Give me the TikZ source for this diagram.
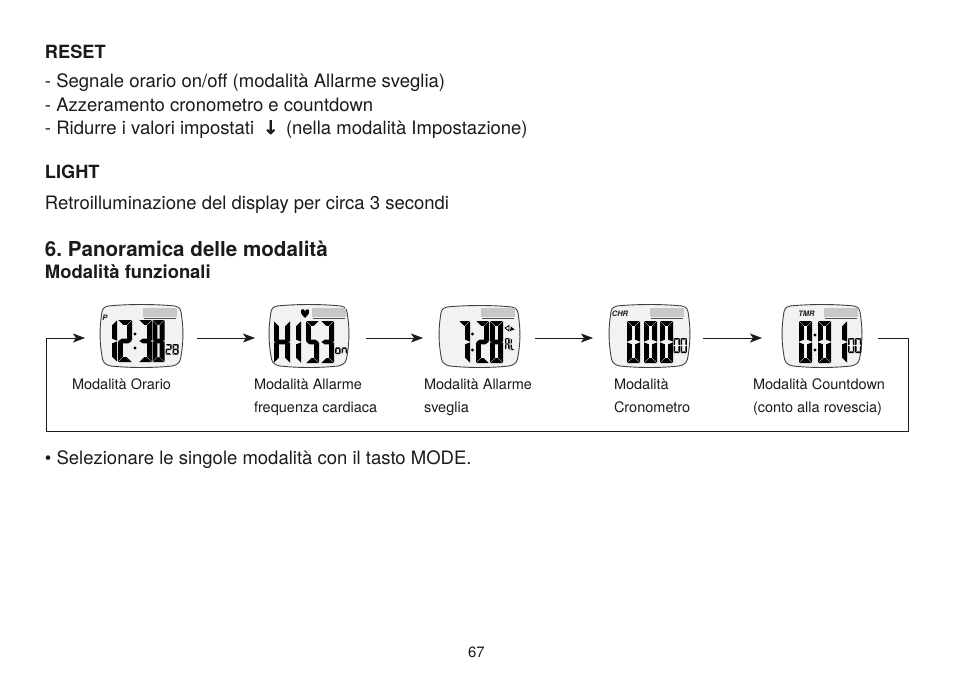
\documentclass[tikz,border=0pt]{standalone}
\usepackage{fontspec}
\setmainfont{TeX Gyre Heros}
\newfontfamily\symfont[FakeBold=3]{DejaVu Sans}
\usetikzlibrary{arrows.meta}
\definecolor{ink}{HTML}{1C1A1A}
\frenchspacing
\tikzset{
  x=1pt,y=-1pt,
  txt/.style={anchor=base west,inner sep=0,outer sep=0,text=ink,font=\fontsize{18.5}{18.5}\selectfont},
  boldhead/.style={txt,font=\fontsize{18.2}{18.2}\selectfont\bfseries},
  boldtitle/.style={txt,font=\fontsize{20.6}{20.6}\selectfont\bfseries},
  boldsub/.style={txt,font=\fontsize{18.4}{18.4}\selectfont\bfseries},
  captxt/.style={txt,font=\fontsize{14.5}{14.5}\selectfont},
  pagenum/.style={txt,font=\fontsize{15}{15}\selectfont},
  tinytxt/.style={anchor=center,inner sep=0,outer sep=0,text=ink,font=\fontsize{7.5}{7.5}\selectfont\bfseries\itshape},
  flow/.style={draw=ink,line width=1pt,-{Stealth[length=12pt,width=9pt,inset=3pt]}},
  lcdbody/.style={draw=black!75,line width=0.9pt,fill=black!5},
  lcdbar/.style={fill=black!22},
  lcdink/.style={fill=black}
}
\def\lcdsega{\fill[lcdink] (\DG,0) -- (\DW-\DG,0) -- (\DW-\DG-\DT,\DT) -- (\DG+\DT,\DT) -- cycle;}
\def\lcdsegd{\fill[lcdink] (\DG,\DH) -- (\DW-\DG,\DH) -- (\DW-\DG-\DT,\DH-\DT) -- (\DG+\DT,\DH-\DT) -- cycle;}
\def\lcdsegg{\fill[lcdink] (\DG,\DM) -- (\DG+\DT*0.7,\DM-\DT*0.5) -- (\DW-\DG-\DT*0.7,\DM-\DT*0.5) -- (\DW-\DG,\DM) -- (\DW-\DG-\DT*0.7,\DM+\DT*0.5) -- (\DG+\DT*0.7,\DM+\DT*0.5) -- cycle;}
\def\lcdsegf{\fill[lcdink] (0,\DG) -- (\DT,\DG+\DT) -- (\DT,\DM-\DG-\DT*0.4) -- (0,\DM-\DG) -- cycle;}
\def\lcdsege{\fill[lcdink] (0,\DM+\DG) -- (\DT,\DM+\DG+\DT*0.4) -- (\DT,\DH-\DG-\DT) -- (0,\DH-\DG) -- cycle;}
\def\lcdsegb{\fill[lcdink] (\DW,\DG) -- (\DW-\DT,\DG+\DT) -- (\DW-\DT,\DM-\DG-\DT*0.4) -- (\DW,\DM-\DG) -- cycle;}
\def\lcdsegc{\fill[lcdink] (\DW,\DM+\DG) -- (\DW-\DT,\DM+\DG+\DT*0.4) -- (\DW-\DT,\DH-\DG-\DT) -- (\DW,\DH-\DG) -- cycle;}
% x y w h t segments
\newcommand\digitat[6]{%
  \begin{scope}[shift={(#1,#2)}]
    \def\DW{#3}\def\DH{#4}\def\DT{#5}\def\DG{0.4}
    \pgfmathsetmacro\DM{#4/2}
    \foreach \s in {#6}{\csname lcdseg\s\endcsname}
  \end{scope}}
\newcommand\bigd[4]{\digitat{#1}{#2}{#3}{42}{4.9}{#4}}
\newcommand\smalld[2]{\digitat{#1}{344}{6}{10.5}{1.5}{#2}}
\newcommand\smalle[2]{\digitat{#1}{338}{6.4}{15}{1.6}{#2}}
\newcommand\colondots[3]{\fill[lcdink] (#1,#2) circle (1.7) (#1,#3) circle (1.7);}
% body: x0 y0 x1 y1 barx
\newcommand\lcdshape[5]{%
  \path[lcdbody] (#1+8,#2+2) .. controls (#1+28,#2) and (#3-28,#2) .. (#3-8,#2+2)
    .. controls (#3-3,#2+3) and (#3-2,#2+6) .. (#3-1.5,#2+11)
    .. controls (#3+0.6,#2+26) and (#3+0.6,#4-26) .. (#3-2.5,#4-9)
    .. controls (#3-3.5,#4-5) and (#3-6,#4-3) .. (#3-11,#4-2)
    .. controls (#3-30,#4) and (#1+30,#4) .. (#1+11,#4-2)
    .. controls (#1+6,#4-3) and (#1+3.5,#4-5) .. (#1+2.5,#4-9)
    .. controls (#1-0.6,#4-26) and (#1-0.6,#2+26) .. (#1+1.5,#2+11)
    .. controls (#1+2,#2+6) and (#1+3,#2+3) .. (#1+8,#2+2) -- cycle;
  \fill[lcdbar] (#5,308) rectangle (#5+34,317);
  \draw[black!70,line width=0.5pt] (#5+1,318) -- (#5+33,318);
}
\begin{document}
\begin{tikzpicture}
\useasboundingbox (0,0) rectangle (954,677);
\fill[white] (0,0) rectangle (954,677);
% top text
\node[boldhead] (t1) at (45,59) {RESET};
\node[txt] (t2) at (45,88) {- Segnale orario on/off (modalità Allarme sveglia)};
\node[txt] (t3) at (45,111) {- Azzeramento cronometro e countdown};
\node[txt] (t4) at (45,134) {- Ridurre i valori impostati};
\node[txt] (t4a) at (263,134) {\symfont ↓};
\node[txt] (t4b) at (286,134) {(nella modalità Impostazione)};
\node[boldhead] (t5) at (45,178) {LIGHT};
\node[txt] (t6) at (45,209) {Retroilluminazione del display per circa 3 secondi};
\node[boldtitle] (t7) at (45,256) {6. Panoramica delle modalità};
\node[boldsub] (t8) at (45,278) {Modalità funzionali};
% display 1
\lcdshape{100}{304}{183}{368}{143}
\node[tinytxt] (p1) at (105,318) {P};
\bigd{104}{320}{13}{b,c}
\bigd{118}{320}{14}{a,b,g,e,d}
\colondots{135}{334}{348}
\bigd{139}{320}{13}{a,b,c,d,g}
\bigd{152.5}{320}{12}{a,b,c,d,e,f,g}
\smalld{165.5}{a,b,g,e,d}
\smalld{172.5}{a,b,c,d,e,f,g}
% display 2
\lcdshape{269}{304}{349}{368}{312}
\fill[lcdink] (305,318) .. controls (301,314) and (300,312) .. (301,310) .. controls (302,308.5) and (304.5,309) .. (305,311) .. controls (305.5,309) and (308,308.5) .. (309,310) .. controls (310,312) and (309,314) .. (305,318) -- cycle;
\bigd{274}{321}{16}{b,c,e,f,g}
\bigd{288}{321}{13}{b,c}
\bigd{306}{321}{13}{a,f,g,c,d}
\bigd{321}{321}{13}{a,b,c,d,g}
\digitat{335}{342}{5.5}{12}{1.5}{c,d,e,g}
\digitat{341.5}{342}{5.5}{12}{1.5}{c,e,g}
% display 3
\lcdshape{439}{305}{520}{368}{481}
\bigd{459}{321}{11}{a,b,c}
\colondots{472.5}{334}{350}
\bigd{476}{321}{13}{a,b,g,e,d}
\bigd{490}{321}{13}{a,b,c,d,e,f,g}
\digitat{505}{338}{4.5}{12}{1.3}{a,b,c,e,f,g}
\digitat{510.5}{338}{4}{12}{1.3}{d,e,f}
\draw[black,fill=none,line width=0.8pt] (505,328) -- (509,325.5) -- (509,331) -- cycle;
\fill[lcdink] (510,331) -- (511,326.5) -- (514.5,329.5) -- cycle;
% display 4
\lcdshape{609}{304}{690}{368}{650}
\node[tinytxt] (chr) at (620,314) {CHR};
\bigd{627}{321}{13}{a,b,c,d,e,f}
\bigd{644}{321}{13}{a,b,c,d,e,f}
\bigd{660}{321}{13}{a,b,c,d,e,f}
\smalle{673.5}{a,b,c,d,e,f}
\smalle{680.5}{a,b,c,d,e,f}
% display 5
\lcdshape{782}{304}{862}{368}{824}
\node[tinytxt] (tmr) at (806.5,314) {TMR};
\bigd{799}{321}{13}{a,b,c,d,e,f}
\colondots{815}{335}{350}
\bigd{818}{321}{13}{a,b,c,d,e,f}
\bigd{834}{321}{13}{b,c}
\smalle{848}{a,b,c,d,e,f}
\smalle{855}{a,b,c,d,e,f}
% connector ends
\coordinate (in1) at (85,338);
\coordinate (out1) at (197,338);
\coordinate (in2) at (255,338);
\coordinate (out2) at (366,338);
\coordinate (in3) at (423,338);
\coordinate (out3) at (535,338);
\coordinate (in4) at (593,338);
\coordinate (out4) at (703,338);
\coordinate (in5) at (762,338);
\coordinate (out5) at (878,338);
\coordinate (cr) at (908,338);
\coordinate (br) at (908,431);
\coordinate (bl) at (46,431);
\coordinate (cl) at (46,338);
\draw[flow] (out1) -- (in2);
\draw[flow] (out2) -- (in3);
\draw[flow] (out3) -- (in4);
\draw[flow] (out4) -- (in5);
\draw[flow] (out5) -- (cr) -- (br) -- (bl) -- (cl) -- (in1);
% captions
\node[captxt] (c1) at (72,389) {Modalità Orario};
\node[captxt] (c2) at (254,389) {Modalità Allarme};
\node[captxt] (c2b) at (254,412) {frequenza cardiaca};
\node[captxt] (c3) at (424,389) {Modalità Allarme};
\node[captxt] (c3b) at (424,412) {sveglia};
\node[captxt] (c4) at (614,389) {Modalità};
\node[captxt] (c4b) at (614,412) {Cronometro};
\node[captxt] (c5) at (753,389) {Modalità Countdown};
\node[captxt] (c5b) at (753,412) {(conto alla rovescia)};
\node[txt] (t9) at (45,464) {• Selezionare le singole modalità con il tasto MODE.};
\node[pagenum] (pg) at (468,657) {67};
\end{tikzpicture}
\end{document}
